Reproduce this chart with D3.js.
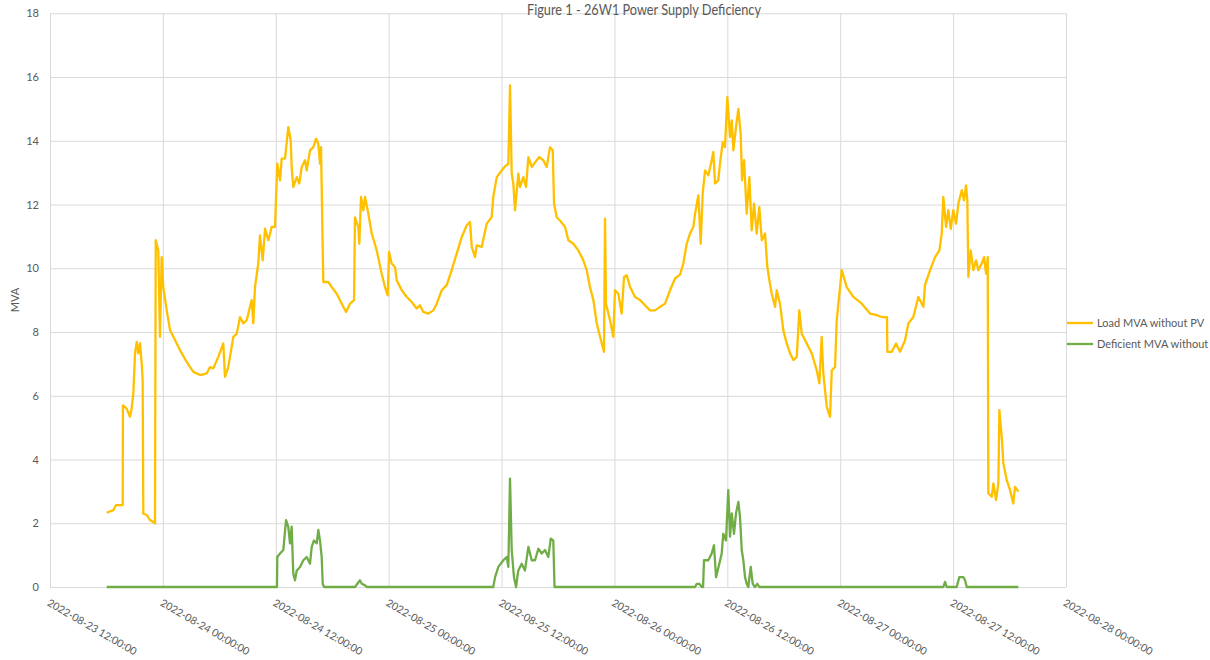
<!DOCTYPE html>
<html>
<head>
<meta charset="utf-8">
<script src="https://cdn.jsdelivr.net/npm/d3@7"></script>
<style>
  html, body { margin: 0; padding: 0; background: #ffffff; }
  svg { display: block; }
  text { font-family: "Lato", "Liberation Sans", sans-serif; }
</style>
</head>
<body>
<svg id="chart" width="1210" height="660"></svg>
<script>
// Time axis: first tick and tick labels (12-hour steps)
const axisStart = new Date(2022, 7, 23, 12, 0, 0);
const axisEnd = new Date(2022, 7, 28, 0, 0, 0);
const xTickLabels = [
  "2022-08-23 12:00:00", "2022-08-24 00:00:00", "2022-08-24 12:00:00",
  "2022-08-25 00:00:00", "2022-08-25 12:00:00", "2022-08-26 00:00:00",
  "2022-08-26 12:00:00", "2022-08-27 00:00:00", "2022-08-27 12:00:00",
  "2022-08-28 00:00:00"
];
const yTicks = [0, 2, 4, 6, 8, 10, 12, 14, 16, 18];

// Load MVA without PV: hours after 2022-08-23 12:00, and MVA
const loadHours = [
  6.03, 6.73, 7.02, 7.73, 7.75, 8.15, 8.50, 8.68, 8.86, 9.04, 9.22, 9.39, 9.57, 9.75, 9.85, 9.92,
  10.28, 10.63, 11.16, 11.24, 11.51, 11.69, 11.87, 12.04, 12.41, 12.76, 13.47, 13.82, 14.53, 15.23,
  15.95, 16.66, 17.01, 17.36, 17.89, 18.42, 18.60, 18.95, 19.49, 19.85, 20.20, 20.55, 20.91, 21.26,
  21.44, 21.61, 21.79, 22.14, 22.32, 22.61, 22.86, 23.21, 23.57, 23.92, 24.16, 24.45, 24.63, 24.98,
  25.33, 25.59, 25.69, 25.86, 26.23, 26.50, 26.76, 27.11, 27.29, 27.64, 27.99, 28.28, 28.52, 28.70,
  28.81, 28.91, 29.05, 29.58, 29.95, 30.48, 31.01, 31.47, 31.89, 32.32, 32.42, 32.77, 32.88, 33.06,
  33.31, 33.49, 33.84, 34.20, 34.73, 35.26, 35.61, 35.90, 36.04, 36.32, 36.67, 36.86, 37.39, 37.92,
  38.45, 38.98, 39.33, 39.68, 40.22, 40.75, 41.11, 41.64, 42.17, 42.70, 43.23, 43.77, 44.30, 44.65,
  44.83, 45.18, 45.36, 45.89, 46.42, 46.95, 47.12, 47.49, 48.02, 48.37, 48.72, 48.90, 49.08, 49.25,
  49.43, 49.78, 49.96, 50.31, 50.60, 50.85, 51.21, 51.74, 52.01, 52.44, 52.80, 53.15, 53.44, 53.58,
  53.86, 54.21, 54.75, 55.10, 55.63, 56.16, 56.69, 57.05, 57.40, 57.76, 58.12, 58.47, 58.89, 59.00,
  59.10, 59.53, 59.88, 60.06, 60.41, 60.77, 61.02, 61.31, 61.66, 62.19, 62.72, 63.25, 63.78, 64.31,
  64.85, 65.38, 65.91, 66.44, 66.97, 67.32, 67.68, 68.03, 68.39, 68.57, 68.92, 69.17, 69.38, 69.63,
  69.98, 70.34, 70.51, 70.69, 71.04, 71.22, 71.51, 71.75, 72.00, 72.29, 72.47, 72.64, 72.92, 73.17,
  73.42, 73.56, 73.78, 74.06, 74.34, 74.59, 74.84, 75.12, 75.40, 75.66, 76.01, 76.25, 76.47, 76.72,
  77.07, 77.25, 77.60, 77.95, 78.31, 78.67, 79.02, 79.38, 79.65, 79.91, 80.44, 80.97, 81.50, 81.78,
  82.03, 82.20, 82.57, 82.92, 83.10, 83.45, 83.63, 83.91, 84.16, 84.69, 85.39, 86.29, 87.17, 87.88,
  88.41, 88.97, 89.01, 89.48, 89.93, 90.36, 90.89, 91.24, 91.77, 92.30, 92.84, 93.01, 93.55, 94.08,
  94.54, 94.79, 94.96, 95.25, 95.49, 95.75, 96.02, 96.31, 96.56, 96.92, 97.16, 97.37, 97.51, 97.62,
  97.87, 98.15, 98.44, 98.68, 99.04, 99.29, 99.50, 99.68, 99.74, 100.11, 100.28, 100.56, 100.81,
  100.92, 101.17, 101.34, 101.70, 102.05, 102.40, 102.58, 102.94
];
const loadMVA = [
  2.33, 2.41, 2.57, 2.57, 5.70, 5.60, 5.34, 5.60, 6.08, 7.33, 7.69, 7.33, 7.65, 7.00, 6.50, 2.30,
  2.26, 2.10, 2.00, 10.88, 10.56, 7.85, 10.35, 9.41, 8.68, 8.06, 7.64, 7.43, 7.06, 6.75,
  6.65, 6.70, 6.90, 6.86, 7.22, 7.64, 6.59, 6.90, 7.85, 7.95, 8.47, 8.27, 8.37, 8.79,
  9.00, 8.27, 9.41, 10.15, 11.03, 10.25, 11.24, 10.88, 11.30, 11.30, 13.28, 12.76, 13.44, 13.44,
  14.43, 14.00, 13.18, 12.55, 12.86, 12.66, 13.18, 13.39, 13.07, 13.70, 13.80, 14.07, 13.90, 13.28,
  13.80, 12.03, 9.57, 9.57, 9.41, 9.20, 8.89, 8.63, 8.89, 9.00, 11.60, 11.30, 10.77, 12.24,
  11.82, 12.24, 11.71, 11.09, 10.56, 9.83, 9.41, 9.15, 10.51, 10.15, 10.04, 9.62, 9.31, 9.10,
  8.94, 8.74, 8.84, 8.63, 8.58, 8.68, 8.89, 9.31, 9.47, 9.94, 10.46, 10.98, 11.35, 11.45,
  10.67, 10.35, 10.72, 10.67, 11.40, 11.60, 12.24, 12.86, 13.07, 13.20, 13.28, 15.74, 12.97, 12.66,
  11.82, 12.97, 12.55, 12.86, 12.55, 13.49, 13.18, 13.39, 13.49, 13.39, 13.18, 13.80, 13.70, 12.03,
  11.60, 11.50, 11.30, 10.88, 10.77, 10.56, 10.25, 9.94, 9.41, 9.00, 8.27, 7.85, 7.38, 11.56,
  8.89, 8.37, 7.85, 9.31, 9.20, 8.58, 9.73, 9.78, 9.41, 9.10, 9.00, 8.84, 8.68, 8.68,
  8.79, 8.89, 9.31, 9.68, 9.80, 10.15, 10.77, 11.09, 11.30, 11.71, 12.29, 10.77, 12.34, 13.07,
  12.92, 13.39, 13.65, 12.66, 12.76, 13.28, 13.96, 13.80, 15.37, 14.12, 14.64, 13.70, 14.43, 15.00,
  14.22, 12.76, 13.39, 11.71, 12.86, 11.19, 12.03, 11.09, 11.92, 10.88, 11.09, 10.04, 9.62, 9.20,
  8.79, 9.31, 8.89, 8.06, 7.64, 7.33, 7.12, 7.22, 8.68, 7.95, 7.64, 7.33, 6.80, 6.39,
  7.85, 6.70, 5.65, 5.34, 6.80, 6.90, 8.37, 9.20, 9.94, 9.41, 9.10, 8.89, 8.58, 8.53,
  8.47, 8.47, 7.38, 7.38, 7.64, 7.38, 7.74, 8.27, 8.47, 9.10, 8.79, 9.47, 9.94, 10.35,
  10.56, 11.09, 12.24, 11.30, 11.82, 11.24, 11.82, 11.40, 12.03, 12.45, 12.13, 12.60, 12.13, 9.73,
  10.56, 9.94, 10.25, 9.94, 10.15, 10.35, 9.83, 10.35, 2.94, 2.83, 3.25, 2.73, 3.25,
  5.55, 4.71, 3.88, 3.35, 3.04, 2.62, 3.14, 2.99
];

// Deficient MVA without PV: hours after 2022-08-23 12:00, and MVA
const deficientHours = [
  6.03, 24.13, 24.16, 24.45, 24.80, 25.09, 25.33, 25.51, 25.69, 25.86, 26.04, 26.23, 26.58, 26.93,
  27.29, 27.64, 27.82, 28.06, 28.35, 28.52, 28.70, 28.88, 28.99, 29.13, 32.42, 32.95, 33.14, 33.49,
  33.67, 47.12, 47.31, 47.66, 48.19, 48.55, 48.72, 48.90, 49.08, 49.32, 49.54, 49.78, 50.14, 50.49,
  50.85, 51.21, 51.56, 51.91, 52.27, 52.62, 52.97, 53.23, 53.50, 53.63, 68.57, 68.75, 69.02, 69.28,
  69.42, 69.52, 69.98, 70.34, 70.58, 70.80, 71.15, 71.40, 71.57, 71.86, 72.10, 72.29, 72.47, 72.71,
  72.92, 73.17, 73.35, 73.53, 73.70, 73.88, 74.06, 74.23, 74.49, 74.70, 74.94, 75.19, 75.40, 94.96,
  95.14, 95.32, 96.38, 96.66, 97.09, 97.27, 97.45, 102.94
];
const deficientMVA = [
  0, 0, 0.94, 1.05, 1.16, 2.10, 1.89, 1.37, 1.89, 0.42, 0.21, 0.52, 0.63, 0.84,
  0.94, 0.73, 1.26, 1.46, 1.37, 1.79, 1.46, 0.94, 0.10, 0, 0, 0.21, 0.10, 0.05,
  0, 0, 0.31, 0.63, 0.84, 0.94, 0.63, 3.40, 1.16, 0.31, 0, 0.52, 0.73, 0.52,
  1.26, 0.84, 0.84, 1.20, 1.05, 1.16, 0.94, 1.52, 1.46, 0, 0, 0.10, 0.10, 0,
  0, 0.84, 0.84, 1.05, 1.31, 0.31, 0.73, 1.05, 1.67, 1.46, 3.04, 1.58, 2.31, 1.67,
  2.31, 2.67, 2.19, 1.16, 0.84, 0.31, 0.10, 0, 0.63, 0.10, 0, 0.10, 0, 0,
  0.16, 0, 0, 0.31, 0.31, 0.21, 0, 0
];

const seriesNames = ["Load MVA without PV", "Deficient MVA without PV"];
const seriesColors = ["#FFC000", "#70AD47"];
const chartTitle = "Figure 1 - 26W1 Power Supply Deficiency";
const yAxisTitle = "MVA";

const hourMs = 3600 * 1000;
const toTime = h => new Date(axisStart.getTime() + h * hourMs);
const loadSeries = loadHours.map((h, i) => ({ t: toTime(h), v: loadMVA[i] }));
const deficientSeries = deficientHours.map((h, i) => ({ t: toTime(h), v: deficientMVA[i] }));

const svg = d3.select("#chart");
const plot = { left: 50, right: 1066, top: 13.3, bottom: 587 };

const x = d3.scaleTime().domain([axisStart, axisEnd]).range([plot.left, plot.right]);
const y = d3.scaleLinear().domain([0, 18]).range([plot.bottom, plot.top]);
const xTicks = xTickLabels.map(s => new Date(s.replace(" ", "T")));

const gridColor = "#d9d9d9";
const textColor = "#595959";
const fontStack = "Lato, 'Liberation Sans', sans-serif";

// Horizontal gridlines + y-axis tick labels
const yAxis = d3.axisLeft(y).tickValues(yTicks).tickSize(-(plot.right - plot.left)).tickPadding(11)
  .tickFormat(d3.format("d"));
const gy = svg.append("g").attr("transform", `translate(${plot.left},0)`).call(yAxis);
gy.select(".domain").remove();
gy.selectAll(".tick line").attr("stroke", gridColor).attr("stroke-width", 1);
gy.selectAll(".tick text").attr("fill", textColor).attr("font-size", 11)
  .attr("font-family", fontStack);

// Vertical gridlines + rotated date labels
const xAxis = d3.axisBottom(x).tickValues(xTicks).tickSize(-(plot.bottom - plot.top))
  .tickFormat((d, i) => xTickLabels[i]);
const gx = svg.append("g").attr("transform", `translate(0,${plot.bottom})`).call(xAxis);
gx.select(".domain").remove();
gx.selectAll(".tick line").attr("stroke", gridColor).attr("stroke-width", 1);
gx.selectAll(".tick text")
  .attr("fill", textColor).attr("font-size", 10.5)
  .attr("font-family", fontStack)
  .attr("text-anchor", "start")
  .attr("dy", null)
  .attr("y", 0)
  .attr("transform", "translate(-4,18) rotate(30)");

// Series lines
const line = d3.line().x(d => x(d.t)).y(d => y(d.v)).curve(d3.curveLinear);
svg.append("path").datum(loadSeries)
  .attr("fill", "none").attr("stroke", seriesColors[0]).attr("stroke-width", 2.3)
  .attr("stroke-linejoin", "round").attr("d", line);
svg.append("path").datum(deficientSeries)
  .attr("fill", "none").attr("stroke", seriesColors[1]).attr("stroke-width", 2.3)
  .attr("stroke-linejoin", "round").attr("d", line);

// Title
svg.append("text").attr("x", 644).attr("y", 14.5).attr("text-anchor", "middle")
  .attr("fill", textColor).attr("font-size", 16)
  .attr("textLength", 234).attr("lengthAdjust", "spacingAndGlyphs").text(chartTitle);

// Y-axis title
svg.append("text").attr("transform", "translate(19,300) rotate(-90)")
  .attr("text-anchor", "middle").attr("fill", textColor).attr("font-size", 11).text(yAxisTitle);

// Legend (second entry runs past the right edge)
const legend = svg.append("g").attr("transform", "translate(1067,323)");
seriesNames.forEach((name, i) => {
  const g = legend.append("g").attr("transform", `translate(0,${i * 21})`);
  g.append("line").attr("x1", 0).attr("x2", 26).attr("y1", 0).attr("y2", 0)
    .attr("stroke", seriesColors[i]).attr("stroke-width", 2.3);
  g.append("text").attr("x", 30).attr("y", 4).attr("fill", textColor)
    .attr("font-size", 11).text(name);
});
</script>
</body>
</html>
